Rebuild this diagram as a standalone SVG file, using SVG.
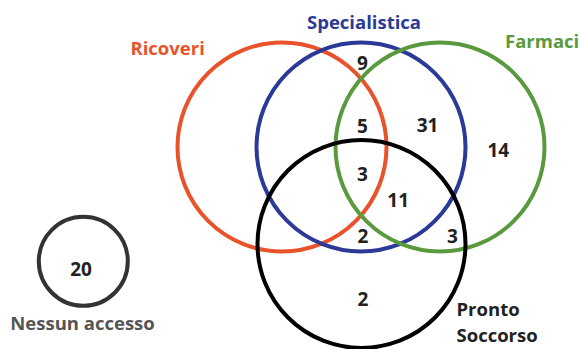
<svg xmlns="http://www.w3.org/2000/svg" width="581" height="349" viewBox="0 0 581 349">
<style>
.c{fill:none;stroke-width:4}
.n{font-family:"Open Sans","Noto Sans","Liberation Sans",sans-serif;font-weight:700;font-size:19px;fill:#222;text-anchor:middle}
.l{font-family:"Open Sans","Noto Sans","Liberation Sans",sans-serif;font-weight:700;font-size:18.5px}
</style>
<rect width="581" height="349" fill="#fff"/>
<g id="ricoveri">
<circle class="c" cx="282" cy="147" r="104.5" stroke="#e8532b"/>
<text class="l" x="130.5" y="55" fill="#e8532b">Ricoveri</text>
</g>
<g id="specialistica">
<circle class="c" cx="361" cy="147" r="104.5" stroke="#2b3a96"/>
<text class="l" x="364" y="29" fill="#2b3a96" text-anchor="middle">Specialistica</text>
</g>
<g id="farmaci">
<circle class="c" cx="440" cy="147" r="104.5" stroke="#5a9a3f"/>
<text class="l" x="505" y="48" fill="#5a9a3f">Farmaci</text>
</g>
<g id="pronto-soccorso">
<circle class="c" cx="361.5" cy="244" r="104" stroke="#000"/>
<text class="l" x="456.5" y="316" fill="#222">Pronto</text>
<text class="l" x="456.5" y="341.7" fill="#222">Soccorso</text>
</g>
<g id="nessun-accesso">
<circle class="c" cx="83.3" cy="261.3" r="44.5" stroke="#333"/>
<text class="n" x="81" y="276">20</text>
<text class="l" x="82.5" y="330" fill="#555" text-anchor="middle">Nessun accesso</text>
</g>
<g id="counts">
<text class="n" x="362.5" y="70">9</text>
<text class="n" x="362.5" y="133.3">5</text>
<text class="n" x="427.5" y="131.7">31</text>
<text class="n" x="498.3" y="157.3">14</text>
<text class="n" x="362.5" y="181">3</text>
<text class="n" x="398.2" y="206.7">11</text>
<text class="n" x="363" y="243.3">2</text>
<text class="n" x="452.5" y="243.3">3</text>
<text class="n" x="363" y="306">2</text>
</g>
<g id="connectors"></g>
</svg>
